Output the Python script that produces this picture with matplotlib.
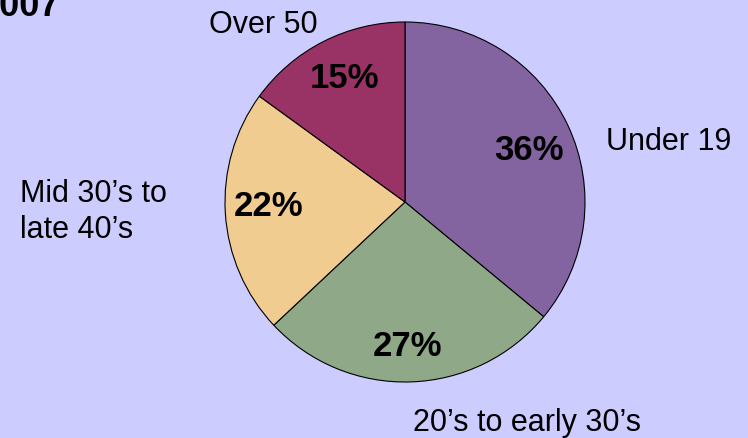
import matplotlib
matplotlib.use("Agg")
import matplotlib.pyplot as plt

categories = ["Under 19", "20\u2019s to early 30\u2019s", "Mid 30\u2019s to\nlate 40\u2019s", "Over 50"]
shares = [36, 27, 22, 15]
colors = ["#8464A0", "#8FA888", "#F0CC90", "#993366"]
title_text = "2007"

W, H = 748, 439
BG = "#CCCCFF"
plt.rcParams['font.family'] = ['Liberation Sans', 'DejaVu Sans']

fig = plt.figure(figsize=(W / 100, H / 100), dpi=100, facecolor=BG)
ax = fig.add_axes([0, 0, 1, 1])
ax.set_facecolor(BG)

cx, cy, r = 405, H - 203, 180
wedges, texts, autotexts = ax.pie(
    shares, colors=colors, startangle=90, counterclock=False,
    center=(cx, cy), radius=r, autopct='%d%%', pctdistance=0.77,
    wedgeprops=dict(edgecolor='black', linewidth=0.8),
    textprops=dict(fontsize=25, fontweight='bold', color='black'),
    frame=True)
ax.set_xlim(0, W)
ax.set_ylim(0, H)
ax.set_aspect('equal')
ax.axis('off')

# percent label layout positions (pixels from top-left)
pct_pos = [(529, 150), (408, 347), (269, 207), (345, 78)]
for t, (x, y) in zip(autotexts, pct_pos):
    t.set_position((x, H - y))

# category labels (layout positions in pixels)
label_pos = [(606, H - 142, 'left'), (527, H - 423, 'center'),
             (20, H - 212, 'left'), (263, H - 25, 'center')]
for cat, (x, y, ha) in zip(categories, label_pos):
    ax.text(x, y, cat, fontsize=22, ha=ha, va='center', linespacing=1.22)

ax.text(60, H - 16, title_text, fontsize=26, fontweight='bold', ha='right', va='baseline')

fig.savefig("out.png", dpi=100, facecolor=BG)
